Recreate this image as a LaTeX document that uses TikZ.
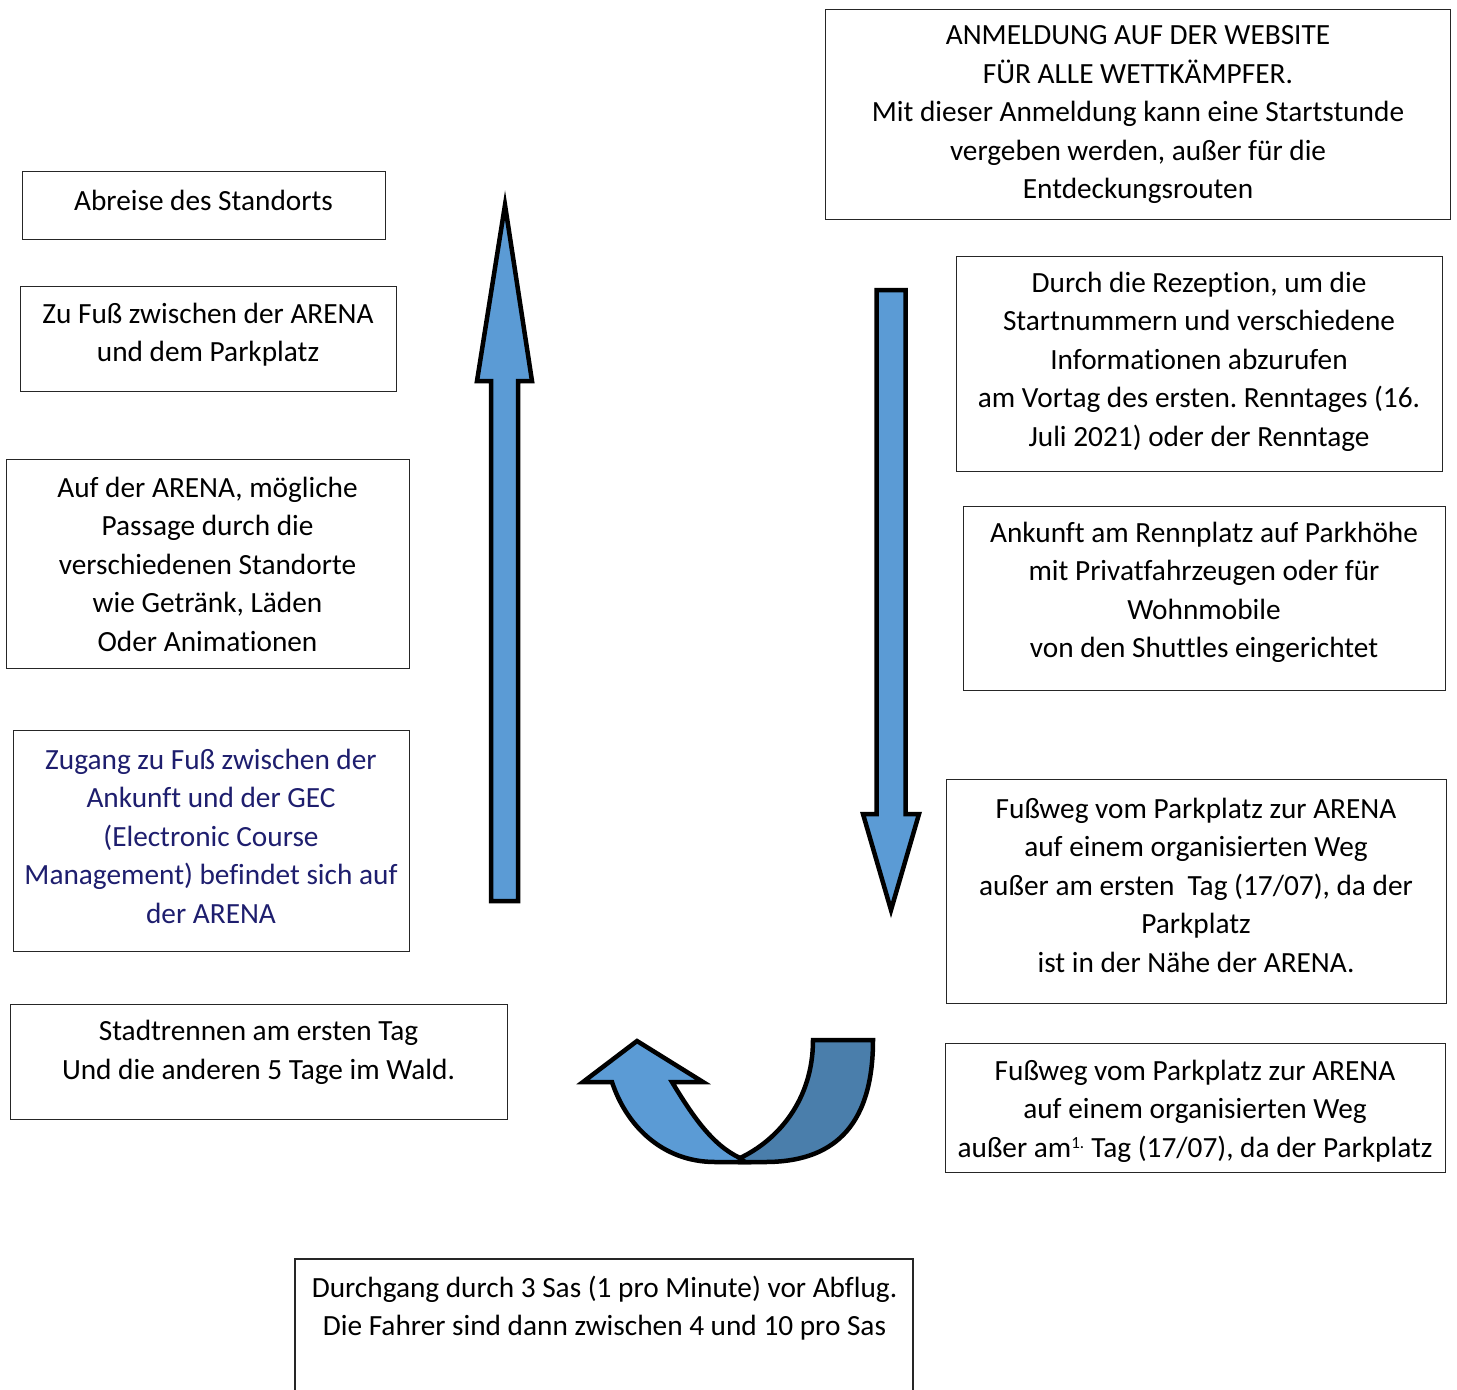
\documentclass[tikz,border=0pt]{standalone}
\usepackage{fontspec}
\setmainfont{Carlito}[Ligatures={NoCommon}]
\frenchspacing
\definecolor{lightblue}{RGB}{91,155,213}
\definecolor{darkblue}{RGB}{74,126,171}
\definecolor{navytext}{RGB}{30,30,110}
\begin{document}
\begin{tikzpicture}[x=1pt,y=-1pt,
  box/.style={draw=black!85, line width=1.3pt, inner sep=0pt, anchor=north west},
  txt/.style={align=center, inner sep=0pt, font=\fontsize{29.3}{38.5}\selectfont},
  arrowshape/.style={draw=black, line width=4.5pt, line join=miter, fill=lightblue}]
\useasboundingbox (0,0) rectangle (1457,1390);
\fill[white] (0,0) rectangle (1457,1390);

% right column boxes
\node[box, minimum width=625pt, minimum height=210pt] (b1) at (825,9) {};
\node[txt] (t1) at (1138,115) {ANMELDUNG AUF DER WEBSITE\\FÜR ALLE WETTKÄMPFER.\\Mit dieser Anmeldung kann eine Startstunde\\vergeben werden, außer für die\\Entdeckungsrouten};

\node[box, minimum width=486pt, minimum height=215pt] (b2) at (956,256) {};
\node[txt] (t2) at (1199,361.5) {Durch die Rezeption, um die\\Startnummern und verschiedene\\Informationen abzurufen\\am Vortag des ersten. Renntages (16.\\Juli 2021) oder der Renntage};

\node[box, minimum width=482pt, minimum height=184pt] (b3) at (963,506) {};
\node[txt] (t3) at (1204,592.5) {Ankunft am Rennplatz auf Parkhöhe\\mit Privatfahrzeugen oder für\\Wohnmobile\\von den Shuttles eingerichtet};

\node[box, minimum width=500pt, minimum height=224pt] (b4) at (946,779) {};
\node[txt] (t4) at (1196,885) {Fußweg vom Parkplatz zur ARENA\\auf einem organisierten Weg\\außer am ersten\ \ Tag (17/07), da der\\Parkplatz\\ist in der Nähe der ARENA.};

\node[box, minimum width=500pt, minimum height=129pt] (b5) at (945,1043) {};
\node[txt] (t5) at (1195,1111) {Fußweg vom Parkplatz zur ARENA\\auf einem organisierten Weg\\außer am\textsuperscript{\fontsize{17}{17}\selectfont 1.} Tag (17/07), da der Parkplatz};

% left column boxes
\node[box, minimum width=363pt, minimum height=68pt] (b6) at (22,171) {};
\node[txt] (t6) at (203.5,200) {Abreise des Standorts};

\node[box, minimum width=376pt, minimum height=105pt] (b7) at (20,286) {};
\node[txt] (t7) at (208,334.5) {Zu Fuß zwischen der ARENA\\und dem Parkplatz};

\node[box, minimum width=403pt, minimum height=209pt] (b8) at (6,459) {};
\node[txt] (t8) at (207.5,564) {Auf der ARENA, mögliche\\Passage durch die\\verschiedenen Standorte\\wie Getränk, Läden\\Oder Animationen};

\node[box, minimum width=396pt, minimum height=221pt] (b9) at (13,730) {};
\node[txt, text=navytext] (t9) at (211,836) {Zugang zu Fuß zwischen der\\Ankunft und der GEC\\(Electronic Course\\Management) befindet sich auf\\der ARENA};

\node[box, minimum width=497pt, minimum height=115pt] (b10) at (10,1004) {};
\node[txt] (t10) at (258.5,1052.5) {Stadtrennen am ersten Tag\\Und die anderen 5 Tage im Wald.};

% bottom box (open at the bottom edge)
\draw[draw=black!85, line width=1.3pt] (295,1395) -- (295,1259) -- (913,1259) -- (913,1395);
\node[txt] (t11) at (604.5,1308) {Durchgang durch 3 Sas (1 pro Minute) vor Abflug.\\Die Fahrer sind dann zwischen 4 und 10 pro Sas};

% up arrow
\draw[arrowshape] (491,901) -- (491,381) -- (477,381) -- (505,205) -- (532,381) -- (518,381) -- (518,901) -- cycle;

% down arrow
\draw[arrowshape] (876.5,290) -- (905.5,290) -- (905.5,814) -- (919,814) -- (891,910) -- (863,814) -- (876.5,814) -- cycle;

% U-turn arrow: back (dark) part
\draw[draw=black, line width=4.5pt, line join=miter, fill=darkblue]
  (813,1040) -- (873,1040) .. controls (873,1130) and (830,1162) .. (765,1162)
  -- (740,1162) -- (740,1158) .. controls (778,1140) and (813,1100) .. (813,1040) -- cycle;
% U-turn arrow: front (light) part with head
\draw[arrowshape]
  (745,1162) -- (715,1162) .. controls (662,1162) and (626,1125) .. (612,1082)
  -- (583,1082) -- (637,1041) -- (703,1082) -- (672,1082)
  .. controls (692,1115) and (712,1145) .. (740,1158) -- cycle;
\end{tikzpicture}
\end{document}
